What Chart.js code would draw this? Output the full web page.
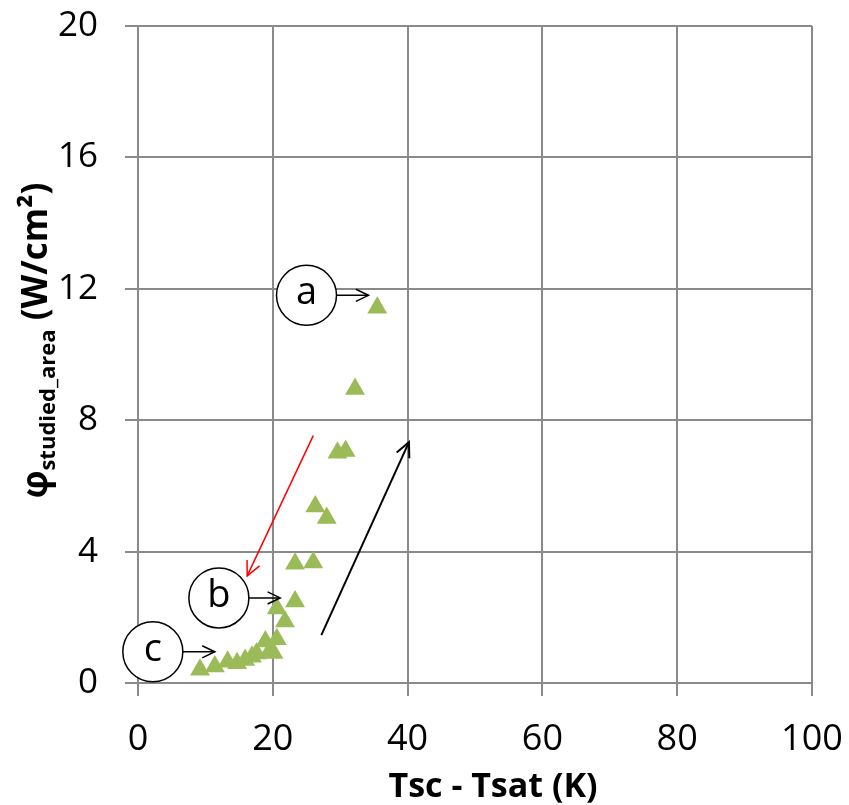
<!DOCTYPE html>
<html><head><meta charset="utf-8">
<script src="https://cdn.jsdelivr.net/npm/chart.js@4/dist/chart.umd.min.js"></script>
<style>html,body{margin:0;padding:0;background:#fff}#wrap{width:849px;height:805px}</style>
</head><body><div id="wrap"><canvas id="c" width="849" height="805"></canvas></div>
<script>
// ---- data ----
const deltaT   = [9.2, 11.4, 13.3, 14.7, 15.9, 16.9, 17.6, 18.9, 19.6, 20.1, 20.6, 21.8, 20.6, 23.3, 23.3, 26.0, 26.3, 28.0, 29.6, 30.8, 32.2, 35.5];
const heatFlux = [0.40, 0.50, 0.65, 0.60, 0.70, 0.80, 0.90, 1.26, 1.00, 0.91, 1.33, 1.87, 2.27, 2.48, 3.63, 3.67, 5.37, 5.02, 7.01, 7.06, 8.95, 11.42];
const xTickValues = [0, 20, 40, 60, 80, 100];
const yTickValues = [0, 4, 8, 12, 16, 20];
const xAxisTitle = 'Tsc - Tsat (K)';
const yAxisSymbol = 'φ';
const yAxisSub = 'studied_area';
const yAxisUnit = ' (W/cm²)';
// annotation labels (data coordinates)
const labelLetters   = ['a', 'b', 'c'];
const labelCenterX   = [25.0, 12.0, 2.2];
const labelCenterY   = [11.8, 2.59, 0.95];
const labelArrowEndX = [34.2, 21.1, 11.4];
// trend arrows (data coordinates: start -> end)
const redArrowX   = [26.0, 16.2];
const redArrowY   = [7.53, 3.26];
const blackArrowX = [27.2, 40.2];
const blackArrowY = [1.46, 7.33];

const FONT = '"Open Sans", "Noto Sans", sans-serif';
const GRID = '#8a8a8a';

function arrowHead(ctx, x1, y1, x2, y2, len) {
  const a = Math.atan2(y2 - y1, x2 - x1);
  const s = Math.PI / 7;
  ctx.beginPath();
  ctx.moveTo(x2 - len * Math.cos(a - s), y2 - len * Math.sin(a - s));
  ctx.lineTo(x2, y2);
  ctx.lineTo(x2 - len * Math.cos(a + s), y2 - len * Math.sin(a + s));
  ctx.stroke();
}
function line(ctx, x1, y1, x2, y2) {
  ctx.beginPath(); ctx.moveTo(x1, y1); ctx.lineTo(x2, y2); ctx.stroke();
}
function zeroPad(s) { s.paddingTop = 0; s.paddingBottom = 0; s.paddingLeft = 0; s.paddingRight = 0; }

const decor = {
  id: 'decor',
  afterDatasetsDraw(chart) {
    const ctx = chart.ctx, xs = chart.scales.x, ys = chart.scales.y;
    ctx.save();
    const R = 30;
    for (let i = 0; i < labelLetters.length; i++) {
      const cx = xs.getPixelForValue(labelCenterX[i]);
      const cy = ys.getPixelForValue(labelCenterY[i]);
      ctx.beginPath();
      ctx.arc(cx, cy, R, 0, Math.PI * 2);
      ctx.fillStyle = '#fff'; ctx.fill();
      ctx.lineWidth = 1.5; ctx.strokeStyle = '#000'; ctx.stroke();
      ctx.fillStyle = '#000';
      ctx.font = '38px ' + FONT;
      ctx.textAlign = 'center'; ctx.textBaseline = 'middle';
      ctx.fillText(labelLetters[i], cx, cy - 2);
      const ex = xs.getPixelForValue(labelArrowEndX[i]);
      line(ctx, cx + R, cy, ex, cy);
      arrowHead(ctx, cx + R, cy, ex, cy, 14);
    }
    ctx.strokeStyle = '#ff0000'; ctx.lineWidth = 1.5;
    let x1 = xs.getPixelForValue(redArrowX[0]), y1 = ys.getPixelForValue(redArrowY[0]);
    let x2 = xs.getPixelForValue(redArrowX[1]), y2 = ys.getPixelForValue(redArrowY[1]);
    line(ctx, x1, y1, x2, y2); arrowHead(ctx, x1, y1, x2, y2, 16);
    ctx.strokeStyle = '#000'; ctx.lineWidth = 2;
    x1 = xs.getPixelForValue(blackArrowX[0]); y1 = ys.getPixelForValue(blackArrowY[0]);
    x2 = xs.getPixelForValue(blackArrowX[1]); y2 = ys.getPixelForValue(blackArrowY[1]);
    line(ctx, x1, y1, x2, y2); arrowHead(ctx, x1, y1, x2, y2, 16);
    ctx.restore();
  },
  afterDraw(chart) {
    const ctx = chart.ctx, ca = chart.chartArea;
    ctx.save();
    ctx.fillStyle = '#000';
    ctx.font = 'bold 34px ' + FONT;
    ctx.textAlign = 'center'; ctx.textBaseline = 'alphabetic';
    ctx.fillText(xAxisTitle, (ca.left + ca.right) / 2 + 18, 797);
    const cyMid = (ca.top + ca.bottom) / 2 - 14;
    const mainFont = 'bold 35px ' + FONT;
    const subFont = 'bold 22px ' + FONT;
    ctx.font = mainFont; const w1 = ctx.measureText(yAxisSymbol).width;
    const w3 = ctx.measureText(yAxisUnit).width;
    ctx.font = subFont; const w2 = ctx.measureText(yAxisSub).width;
    const total = w1 + w2 + w3;
    ctx.translate(47, cyMid);
    ctx.rotate(-Math.PI / 2);
    ctx.textAlign = 'left';
    let x = -total / 2;
    ctx.font = mainFont; ctx.fillText(yAxisSymbol, x, 0); x += w1;
    ctx.font = subFont; ctx.fillText(yAxisSub, x, 8); x += w2;
    ctx.font = mainFont; ctx.fillText(yAxisUnit, x, 0);
    ctx.restore();
  }
};

new Chart(document.getElementById('c'), {
  type: 'scatter',
  data: {
    datasets: [{
      data: deltaT.map((v, i) => ({ x: v, y: heatFlux[i] })),
      pointStyle: 'triangle',
      pointRadius: 11.5,
      pointHoverRadius: 11.5,
      backgroundColor: '#9bbb59',
      borderColor: '#9bbb59',
      borderWidth: 0
    }]
  },
  options: {
    responsive: false,
    animation: false,
    devicePixelRatio: 1,
    layout: { padding: { top: 26, right: 37, left: 0, bottom: 0 } },
    plugins: { legend: { display: false }, tooltip: { enabled: false } },
    scales: {
      x: {
        type: 'linear', min: 0, max: 100,
        afterBuildTicks: s => { s.ticks = xTickValues.map(v => ({ value: v })); },
        afterFit: s => { s.height = 122; zeroPad(s); },
        grid: { color: GRID, lineWidth: 2, tickLength: 13, drawTicks: true },
        border: { color: GRID, width: 2 },
        ticks: { color: '#000', font: { family: FONT, size: 36 }, padding: 22, maxRotation: 0 },
        title: { display: false }
      },
      y: {
        type: 'linear', min: 0, max: 20,
        afterBuildTicks: s => { s.ticks = yTickValues.map(v => ({ value: v })); },
        afterFit: s => { s.width = 138; zeroPad(s); },
        grid: { color: GRID, lineWidth: 2, tickLength: 13, drawTicks: true },
        border: { color: GRID, width: 2 },
        ticks: { color: '#000', font: { family: FONT, size: 35 }, padding: 27 }
      }
    }
  },
  plugins: [decor]
});
</script></body></html>
